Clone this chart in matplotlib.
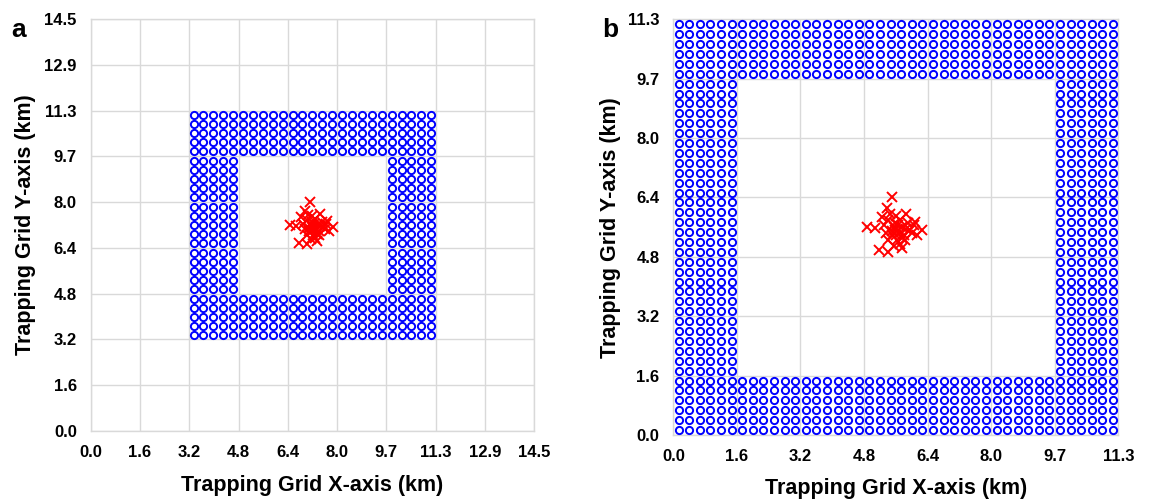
import numpy as np
import matplotlib
matplotlib.use('Agg')
import matplotlib.pyplot as plt

plt.rcParams['font.family'] = ['Liberation Sans', 'DejaVu Sans']
plt.rcParams['font.weight'] = 'bold'

# ---------------- data ----------------
# Panel a
ticks_a = ["0.0", "1.6", "3.2", "4.8", "6.4", "8.0", "9.7", "11.3", "12.9", "14.5"]
extent_a = 14.5
trap_lo_a, trap_hi_a = 3.2, 11.3   # outer bounds of the trap ring (km)
trap_n_a = 25                      # traps per side
ring_a = 5                         # ring width (traps)

# Panel b
ticks_b = ["0.0", "1.6", "3.2", "4.8", "6.4", "8.0", "9.7", "11.3"]
extent_b = 11.3
trap_lo_b, trap_hi_b = 0.0, 11.3
trap_n_b = 42
ring_b = 6

# release / capture cloud: offsets (km) from the domain centre
cloud_dx = [-0.09, -0.23, 0.25, -0.74, -0.53, -0.36, -0.19, -0.02, 0.06, -0.10,
            -0.02, 0.49, 0.66, 0.53, 0.36, -0.44, -0.19, 0.15, 0.02, 0.23,
            -0.19, 0.10, 0.15, -0.05, 0.00, 0.20, -0.30, -0.15, 0.30, 0.10,
            -0.10, 0.05, 0.25, -0.25, 0.40, 0.10, -0.05, 0.00, 0.15, 0.45]
cloud_dy = [0.81, 0.51, 0.37, 0.01, -0.03, 0.28, 0.19, 0.10, -0.08, -0.22,
            -0.08, 0.15, -0.08, -0.22, -0.08, -0.62, -0.67, -0.58, -0.35, -0.35,
            -0.35, -0.15, 0.00, 0.00, -0.20, -0.20, 0.05, 0.35, 0.10, 0.20,
            -0.10, 0.05, -0.05, -0.15, -0.15, -0.45, -0.50, 0.30, -0.30, 0.05]


def ring_points(lo, hi, n, ring):
    cell = (hi - lo) / n
    c = lo + (np.arange(n) + 0.5) * cell
    I, J = np.meshgrid(np.arange(n), np.arange(n))
    X, Y = np.meshgrid(c, c)
    m = (I < ring) | (I >= n - ring) | (J < ring) | (J >= n - ring)
    return X[m], Y[m]


def panel(ax, ticks, extent, lo, hi, n, ring, xlab_pad, ylab_pad):
    tv = np.linspace(0, extent, len(ticks))
    ax.set_xlim(0, extent)
    ax.set_ylim(0, extent)
    ax.set_xticks(tv)
    ax.set_yticks(tv)
    ax.set_xticklabels(ticks)
    ax.set_yticklabels(ticks)
    ax.tick_params(axis='x', length=0, labelsize=12, pad=10)
    ax.tick_params(axis='y', length=0, labelsize=12, pad=10)
    ax.grid(True, color='#d9d9d9', lw=1.0)
    ax.set_axisbelow(True)
    for s in ax.spines.values():
        s.set_color('#d9d9d9')
        s.set_linewidth(1.0)
    tx, ty = ring_points(lo, hi, n, ring)
    ax.plot(tx, ty, 'o', mfc='none', mec='#0000ff', ms=5.2, mew=1.4,
            clip_on=False, zorder=3)
    cx = extent / 2 + np.array(cloud_dx)
    cy = extent / 2 + np.array(cloud_dy)
    ax.plot(cx, cy, 'x', color='#ff0000', ms=6.5, mew=1.4, zorder=4)
    ax.set_xlabel('Trapping Grid X-axis (km)', fontsize=15.5, fontweight='bold',
                  labelpad=xlab_pad)
    ax.set_ylabel('Trapping Grid Y-axis (km)', fontsize=15.5, fontweight='bold',
                  labelpad=ylab_pad)


fig = plt.figure(figsize=(11.5, 5.0), dpi=100)
ax_a = fig.add_axes([0.0789, 0.138, 0.3855, 0.824])
ax_b = fig.add_axes([0.5855, 0.130, 0.3870, 0.8314])

panel(ax_a, ticks_a, extent_a, trap_lo_a, trap_hi_a, trap_n_a, ring_a, 11, 6)
panel(ax_b, ticks_b, extent_b, trap_lo_b, trap_hi_b, trap_n_b, ring_b, 10, 5)

fig.text(0.010, 0.926, 'a', fontsize=19, fontweight='bold')
fig.text(0.5235, 0.926, 'b', fontsize=19, fontweight='bold')

fig.savefig('out.png', dpi=100)
